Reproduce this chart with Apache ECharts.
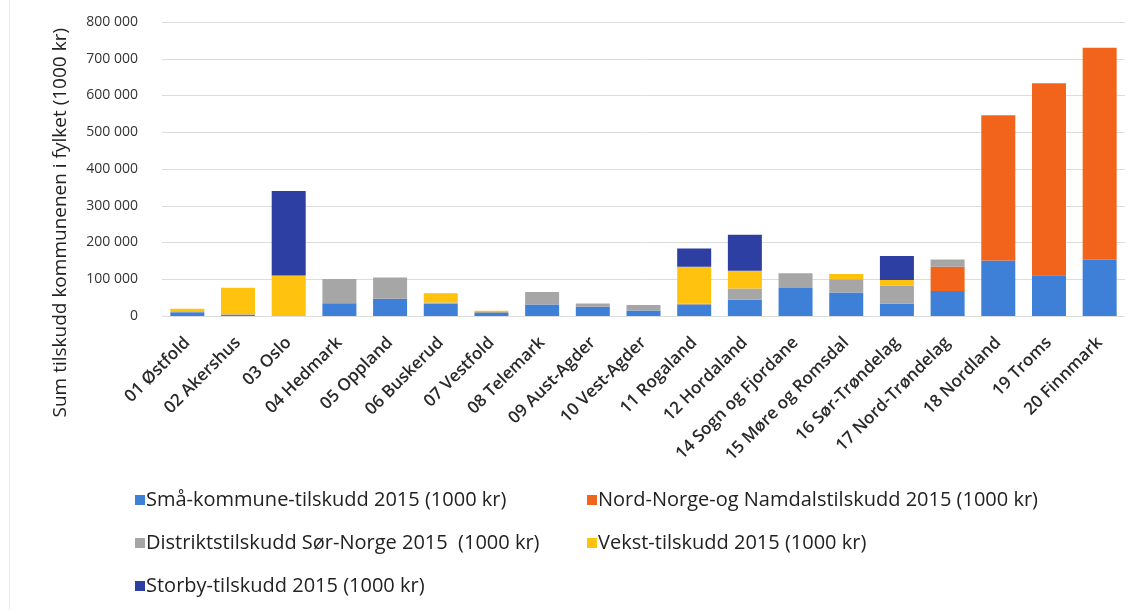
<!DOCTYPE html>
<html>
<head>
<meta charset="utf-8">
<script src="https://cdn.jsdelivr.net/npm/echarts@6/dist/echarts.min.js"></script>
<style>
  html, body { margin: 0; padding: 0; background: #fff; }
  #main { width: 1145px; height: 614px; }
</style>
</head>
<body>
<div id="main"></div>
<script>
    // fylker
    var fylker = ['01 Østfold', '02 Akershus', '03 Oslo', '04 Hedmark', '05 Oppland', '06 Buskerud',
        '07 Vestfold', '08 Telemark', '09 Aust-Agder', '10 Vest-Agder', '11 Rogaland', '12 Hordaland',
        '14 Sogn og Fjordane', '15 Møre og Romsdal', '16 Sør-Trøndelag', '17 Nord-Trøndelag',
        '18 Nordland', '19 Troms', '20 Finnmark'];

    // tilskudd per fylke (1000 kr)
    var smaaKommune = [10000, 3000, 0, 35000, 47000, 33000, 8000, 31000, 25000, 15000, 30000, 44000, 76000, 64000, 33000, 68000, 151000, 111000, 153000];
    var nordNorge   = [0, 0, 0, 0, 0, 0, 0, 0, 0, 0, 0, 0, 0, 0, 0, 66000, 395000, 522000, 577000];
    var distrikt    = [3000, 2000, 0, 66000, 58000, 4000, 3000, 34000, 9000, 15000, 3000, 31000, 40000, 36000, 49000, 20000, 0, 0, 0];
    var vekst       = [7000, 72000, 110000, 0, 0, 25000, 3000, 0, 0, 0, 101000, 48000, 0, 14000, 16000, 0, 0, 0, 0];
    var storby      = [0, 0, 230000, 0, 0, 0, 0, 0, 0, 0, 50000, 98000, 0, 0, 65000, 0, 0, 0, 0];

    var navn = ['Små-kommune-tilskudd 2015 (1000 kr)', 'Nord-Norge-og Namdalstilskudd 2015 (1000 kr)',
        'Distriktstilskudd Sør-Norge 2015  (1000 kr)', 'Vekst-tilskudd 2015 (1000 kr)', 'Storby-tilskudd 2015 (1000 kr)'];
    var farger = ['#3E7FD8', '#F2631C', '#A6A6A6', '#FFC20E', '#2D3FA2'];
    var verdier = [smaaKommune, nordNorge, distrikt, vekst, storby];

    var font = 'Open Sans, Noto Sans, sans-serif';

    var series = [];
    for (var i = 0; i < navn.length; i++) {
        series.push({
            name: navn[i],
            type: 'bar',
            stack: 'sum',
            barWidth: 34,
            itemStyle: { color: farger[i] },
            data: verdier[i]
        });
    }

    var legendStil = {
        orient: 'vertical',
        itemWidth: 10,
        itemHeight: 10,
        itemGap: 23,
        icon: 'rect',
        textStyle: { fontFamily: font, fontSize: 20, color: '#222', padding: [0, 0, 0, -4] }
    };

    var myChart = echarts.init(document.getElementById('main'));
    var option = {
        backgroundColor: '#fff',
        animation: false,
        color: farger,
        grid: { left: 162, right: 20, top: 22, bottom: 298 },
        legend: [
            Object.assign({ left: 130, top: 485, data: [navn[0], navn[2], navn[4]] }, legendStil),
            Object.assign({ left: 582, top: 485, data: [navn[1], navn[3]] }, legendStil)
        ],
        graphic: [
            {
                type: 'text',
                left: 51,
                top: 28,
                rotation: Math.PI / 2,
                style: {
                    text: 'Sum tilskudd kommunenen i fylket (1000 kr)',
                    font: '19px ' + font,
                    fill: '#222'
                }
            },
            // svak kant fra skannet side
            { type: 'rect', left: 9, top: 0, shape: { width: 1, height: 610 }, style: { fill: '#ececec' } }
        ],
        xAxis: {
            type: 'category',
            data: fylker,
            axisLine: { show: false },
            axisTick: { show: false },
            axisLabel: {
                interval: 0,
                rotate: 45,
                margin: 24,
                fontFamily: font,
                fontSize: 17,
                fontWeight: 600,
                color: '#2a2a2a'
            }
        },
        yAxis: {
            type: 'value',
            min: 0,
            max: 800000,
            interval: 100000,
            axisLine: { show: false },
            axisTick: { show: false },
            splitLine: { lineStyle: { color: '#dcdcdc', width: 1 } },
            axisLabel: {
                margin: 24,
                fontFamily: font,
                fontSize: 14,
                color: '#333',
                formatter: function (v) {
                    return String(v).replace(/\B(?=(\d{3})+(?!\d))/g, ' ');
                }
            }
        },
        series: series
    };
    myChart.setOption(option);
</script>
</body>
</html>
